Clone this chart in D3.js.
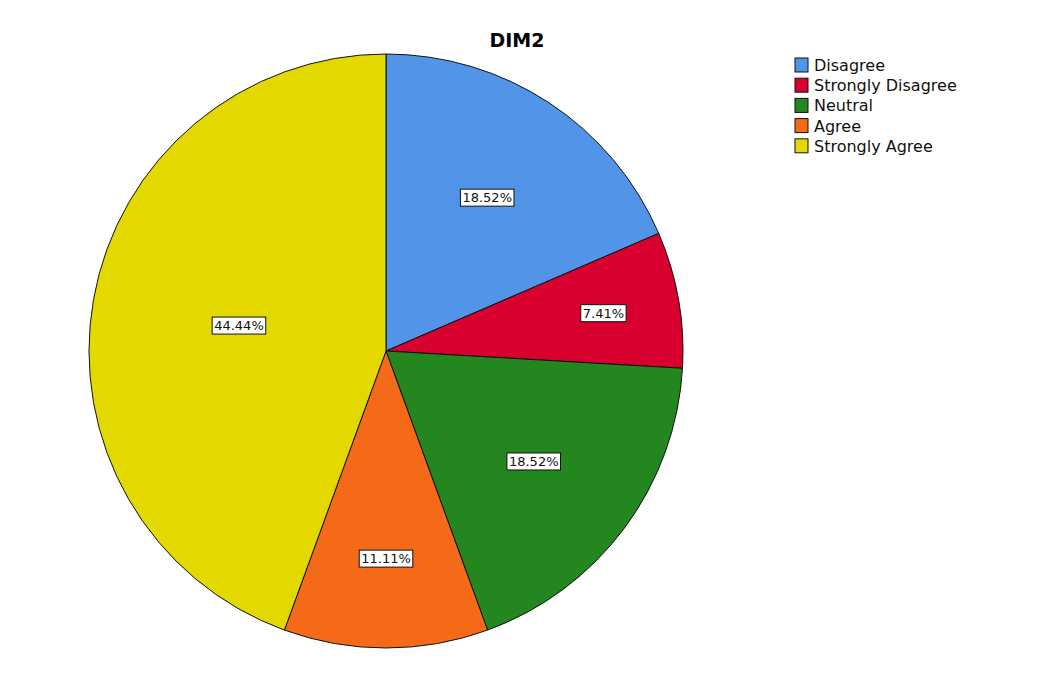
<!DOCTYPE html>
<html>
<head>
<meta charset="utf-8">
<script src="https://cdn.jsdelivr.net/npm/d3@7"></script>
<style>
  body { margin: 0; background: #fff; }
  text { font-family: "DejaVu Sans", sans-serif; }
</style>
</head>
<body>
<div id="chart"></div>
<script>
// data (counts out of 27)
var categories = ['Disagree', 'Strongly Disagree', 'Neutral', 'Agree', 'Strongly Agree'];
var counts = [5, 2, 5, 3, 12];
var colors = ['#5294e8', '#d7002f', '#23861f', '#f56a19', '#e3d900'];

var _width = 1040,
    _height = 683,
    _cx = 386,
    _cy = 351,
    _radius = 297;

var total = d3.sum(counts);

var svg = d3.select('#chart').append('svg')
    .attr('width', _width)
    .attr('height', _height);

// TITLE
svg.append('text')
    .attr('x', 517)
    .attr('y', 47)
    .attr('text-anchor', 'middle')
    .attr('font-size', 19)
    .attr('font-weight', 'bold')
    .text('DIM2');

// PIE
var pie = d3.pie().sort(null).value(function (d) { return d; });
var arc = d3.arc().innerRadius(0).outerRadius(_radius);
var arcs = pie(counts);

var gPie = svg.append('g')
    .attr('transform', 'translate(' + _cx + ',' + _cy + ')');

gPie.selectAll('path')
    .data(arcs)
    .enter().append('path')
    .attr('d', arc)
    .attr('fill', function (d, i) { return colors[i]; })
    .attr('stroke', '#111')
    .attr('stroke-width', 1);

// labels: narrow slices push the label outward, wide ones pull it in
var labelRadius = function (d) {
    var a = (d.endAngle - d.startAngle) / 2;
    return _radius * (0.85 - 0.50 * a + 0.18 * a * a);
};

var labels = gPie.selectAll('.label')
    .data(arcs)
    .enter().append('g')
    .attr('class', 'label')
    .attr('transform', function (d) {
        var mid = (d.startAngle + d.endAngle) / 2;
        var r = labelRadius(d);
        return 'translate(' + (r * Math.sin(mid)) + ',' + (-r * Math.cos(mid)) + ')';
    });

labels.append('text')
    .attr('text-anchor', 'middle')
    .attr('y', 5)
    .attr('font-size', 13)
    .attr('fill', '#111')
    .text(function (d) { return (d.value / total * 100).toFixed(2) + '%'; });

labels.each(function () {
    var g = d3.select(this);
    var bb = g.select('text').node().getBBox();
    g.insert('rect', 'text')
        .attr('x', bb.x - 2)
        .attr('y', bb.y - 1)
        .attr('width', bb.width + 4)
        .attr('height', bb.height + 2)
        .attr('fill', '#fff')
        .attr('stroke', '#111')
        .attr('stroke-width', 1);
});

// LEGEND
var gLegend = svg.append('g')
    .attr('transform', 'translate(795,58)');

var items = gLegend.selectAll('.item')
    .data(categories)
    .enter().append('g')
    .attr('transform', function (d, i) { return 'translate(0,' + (i * 20.2) + ')'; });

items.append('rect')
    .attr('width', 13)
    .attr('height', 14)
    .attr('fill', function (d, i) { return colors[i]; })
    .attr('stroke', '#111');

items.append('text')
    .attr('x', 19)
    .attr('y', 13)
    .attr('font-size', 16)
    .attr('fill', '#111')
    .text(function (d) { return d; });
</script>
</body>
</html>
